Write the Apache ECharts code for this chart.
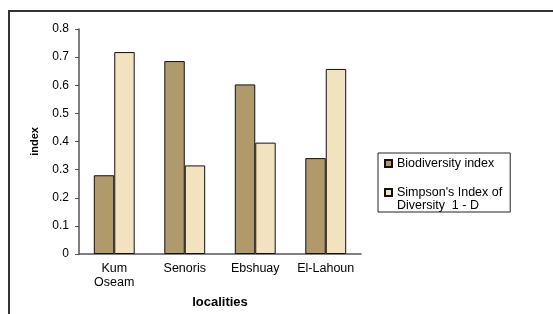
<!DOCTYPE html>
<html>
<head>
<meta charset="utf-8">
<script src="https://cdn.jsdelivr.net/npm/echarts@6/dist/echarts.min.js"></script>
<style>
    html, body { margin: 0; padding: 0; background: #fff; }
    #main { width: 553px; height: 314px; }
</style>
</head>
<body>
<div id="main"></div>
<script>
// 数据
var localities = ['Kum\nOseam', 'Senoris', 'Ebshuay', 'El-Lahoun'];
var seriesNames = ['Biodiversity index', "Simpson's Index of\nDiversity  1 - D"];
var biodiversity = [0.28, 0.686, 0.603, 0.341];
var simpson = [0.718, 0.315, 0.396, 0.658];
var yTicks = [0, 0.1, 0.2, 0.3, 0.4, 0.5, 0.6, 0.7, 0.8];

(function () {
    var myChart = echarts.init(document.getElementById('main'));
    var font = 'Liberation Sans, Arial, sans-serif';

    var option = {
        animation: false,
        textStyle: { fontFamily: font },
        grid: { left: 79, right: 192, top: 29, bottom: 59 },
        // 外框
        graphic: [{
            type: 'rect',
            shape: { x: 9, y: 11, width: 600, height: 400 },
            style: { fill: 'none', stroke: '#333', lineWidth: 2 },
            silent: true
        }],
        legend: {
            orient: 'vertical',
            left: 378,
            top: 153,
            padding: [4, 8, 0, 6],
            itemGap: 3,
            itemWidth: 7,
            itemHeight: 7,
            icon: 'rect',
            borderColor: '#222',
            borderWidth: 1,
            textStyle: { fontSize: 12.5, color: '#000', lineHeight: 13, fontFamily: font },
            // 两行的图例前面加空行，让图标对齐第一行
            formatter: function (name) {
                return name.indexOf('\n') >= 0 ? '\n' + name : name;
            },
            data: seriesNames
        },
        xAxis: {
            type: 'category',
            data: localities,
            name: 'localities',
            nameLocation: 'middle',
            nameGap: 42,
            nameTextStyle: { fontWeight: 'bold', fontSize: 13, color: '#000' },
            axisLine: { lineStyle: { color: '#555', width: 1.5 } },
            axisTick: { length: 4, lineStyle: { color: '#555' } },
            axisLabel: { interval: 0, fontSize: 12.5, color: '#000', margin: 8, lineHeight: 13.5 }
        },
        yAxis: {
            type: 'value',
            min: 0,
            max: 0.8,
            interval: 0.1,
            name: 'index',
            nameLocation: 'middle',
            nameGap: 39,
            nameTextStyle: { fontWeight: 'bold', fontSize: 11, color: '#000' },
            splitLine: { show: false },
            axisLine: { show: true, lineStyle: { color: '#555', width: 1.5 } },
            axisTick: { show: true, length: 4, lineStyle: { color: '#555' } },
            axisLabel: {
                fontSize: 12, color: '#000', margin: 10,
                formatter: function (v) {
                    var t = yTicks.filter(function (x) { return Math.abs(x - v) < 1e-6; })[0];
                    return t === 0 ? '0' : String(Math.round(t * 10) / 10);
                }
            }
        },
        series: [
            {
                name: seriesNames[0],
                type: 'bar',
                data: biodiversity,
                barGap: '0%',
                barCategoryGap: '42%',
                itemStyle: { color: '#b09a6c', borderColor: '#111', borderWidth: 1 }
            },
            {
                name: seriesNames[1],
                type: 'bar',
                data: simpson,
                itemStyle: { color: '#f2e2c0', borderColor: '#111', borderWidth: 1 }
            }
        ]
    };

    myChart.setOption(option);
})();
</script>
</body>
</html>
